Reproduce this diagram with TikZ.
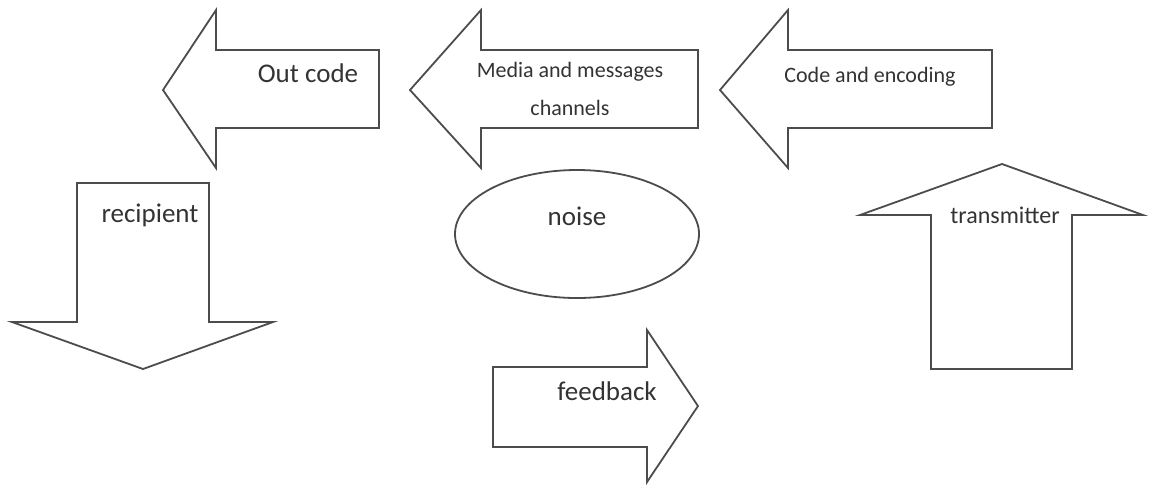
\documentclass[tikz,border=0pt]{standalone}
\usepackage{fontspec}
\setmainfont{Carlito}

\begin{document}
\begin{tikzpicture}[x=0.5pt, y=-0.5pt,
    outline/.style={draw=black!70, line width=0.9pt, line join=miter},
    biglabel/.style={font=\fontsize{13.5}{16}\selectfont, inner sep=0pt, anchor=base, text=black!80},
    smalllabel/.style={font=\fontsize{11}{19}\selectfont, inner sep=0pt, anchor=base, align=center, text=black!80}]
  \useasboundingbox (0,0) rectangle (1150,484);
  % top row: three arrows pointing left
  \foreach \tip/\head/\tail in {163/216/379, 410/481/698, 720/788/992}{
    \draw[outline] (\tip,90) -- (\head,10) -- (\head,50) -- (\tail,50)
      -- (\tail,128) -- (\head,128) -- (\head,168) -- cycle;}
  \node[biglabel] (outcode) at (308,82) {Out code};
  \node[smalllabel] (media) at (570,115) {Media and messages\\channels};
  \node[smalllabel] (encoding) at (870,82) {Code and encoding};
  % recipient: arrow pointing down
  \draw[outline] (77,183) -- (209,183) -- (209,322) -- (273,322) -- (143,369)
    -- (12,322) -- (77,322) -- cycle;
  \node[biglabel] (recipient) at (150,222) {recipient};
  % noise
  \draw[outline] (577,234) ellipse [x radius=122, y radius=64];
  \node[biglabel] (noise) at (577,225) {noise};
  % feedback: arrow pointing right
  \draw[outline] (493,367) -- (647,367) -- (647,330) -- (698,406) -- (647,482)
    -- (647,447) -- (493,447) -- cycle;
  \node[biglabel] (feedback) at (607,400) {feedback};
  % transmitter: arrow pointing up
  \draw[outline] (1002,164) -- (1143,215) -- (1072,215) -- (1072,369)
    -- (931,369) -- (931,215) -- (860,215) -- cycle;
  \node[biglabel, font=\fontsize{12}{14}\selectfont] (transmitter) at (1005,223) {transmitter};
\end{tikzpicture}
\end{document}
